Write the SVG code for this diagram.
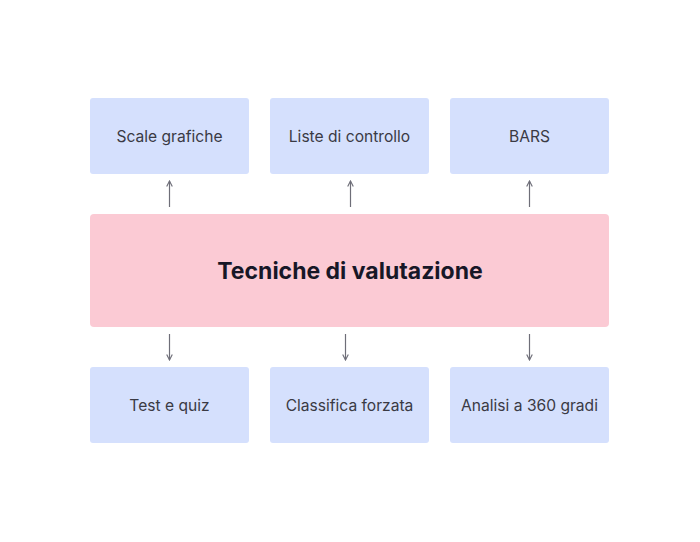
<svg xmlns="http://www.w3.org/2000/svg" width="700" height="542" viewBox="0 0 700 542">
<style>
.box{fill:#d5e0fd}
.main{fill:#fbcad4}
.lbl{font-family:Inter,"Noto Sans",sans-serif;font-size:15.6px;fill:#3a3a44;text-anchor:middle;dominant-baseline:central}
.ttl{font-family:Inter,"Noto Sans",sans-serif;font-size:23px;font-weight:700;fill:#171727;text-anchor:middle;dominant-baseline:central}
.conn{stroke:#6e6e78;stroke-width:1.2;fill:none}
</style>
<defs>
<marker id="ah" viewBox="0 0 10 10" refX="9" refY="5" markerWidth="8" markerHeight="8" orient="auto" markerUnits="userSpaceOnUse">
<path d="M2,1.5 L9,5 L2,8.5" fill="none" stroke="#6e6e78" stroke-width="1.4"/>
</marker>
</defs>
<rect width="700" height="542" fill="#ffffff"/>
<g id="n-scale"><rect class="box" x="90" y="98" width="159" height="76" rx="3"/><text class="lbl" x="169.5" y="136">Scale grafiche</text></g>
<g id="n-liste"><rect class="box" x="270" y="98" width="159" height="76" rx="3"/><text class="lbl" x="349.5" y="136">Liste di controllo</text></g>
<g id="n-bars"><rect class="box" x="450" y="98" width="159" height="76" rx="3"/><text class="lbl" x="529.5" y="136">BARS</text></g>
<g id="n-main"><rect class="main" x="90" y="214" width="519" height="113" rx="4"/><text class="ttl" x="350" y="271">Tecniche di valutazione</text></g>
<g id="n-test"><rect class="box" x="90" y="367" width="159" height="76" rx="3"/><text class="lbl" x="169.5" y="405">Test e quiz</text></g>
<g id="n-class"><rect class="box" x="270" y="367" width="159" height="76" rx="3"/><text class="lbl" x="349.5" y="405">Classifica forzata</text></g>
<g id="n-analisi"><rect class="box" x="450" y="367" width="159" height="76" rx="3"/><text class="lbl" x="529.5" y="405">Analisi a 360 gradi</text></g>
<g id="connectors">
<line class="conn" x1="169.5" y1="207" x2="169.5" y2="181" marker-end="url(#ah)"/>
<line class="conn" x1="350.5" y1="207" x2="350.5" y2="181" marker-end="url(#ah)"/>
<line class="conn" x1="529.5" y1="207" x2="529.5" y2="181" marker-end="url(#ah)"/>
<line class="conn" x1="169.5" y1="334" x2="169.5" y2="360" marker-end="url(#ah)"/>
<line class="conn" x1="345.5" y1="334" x2="345.5" y2="360" marker-end="url(#ah)"/>
<line class="conn" x1="529.5" y1="334" x2="529.5" y2="360" marker-end="url(#ah)"/>
</g>
</svg>
